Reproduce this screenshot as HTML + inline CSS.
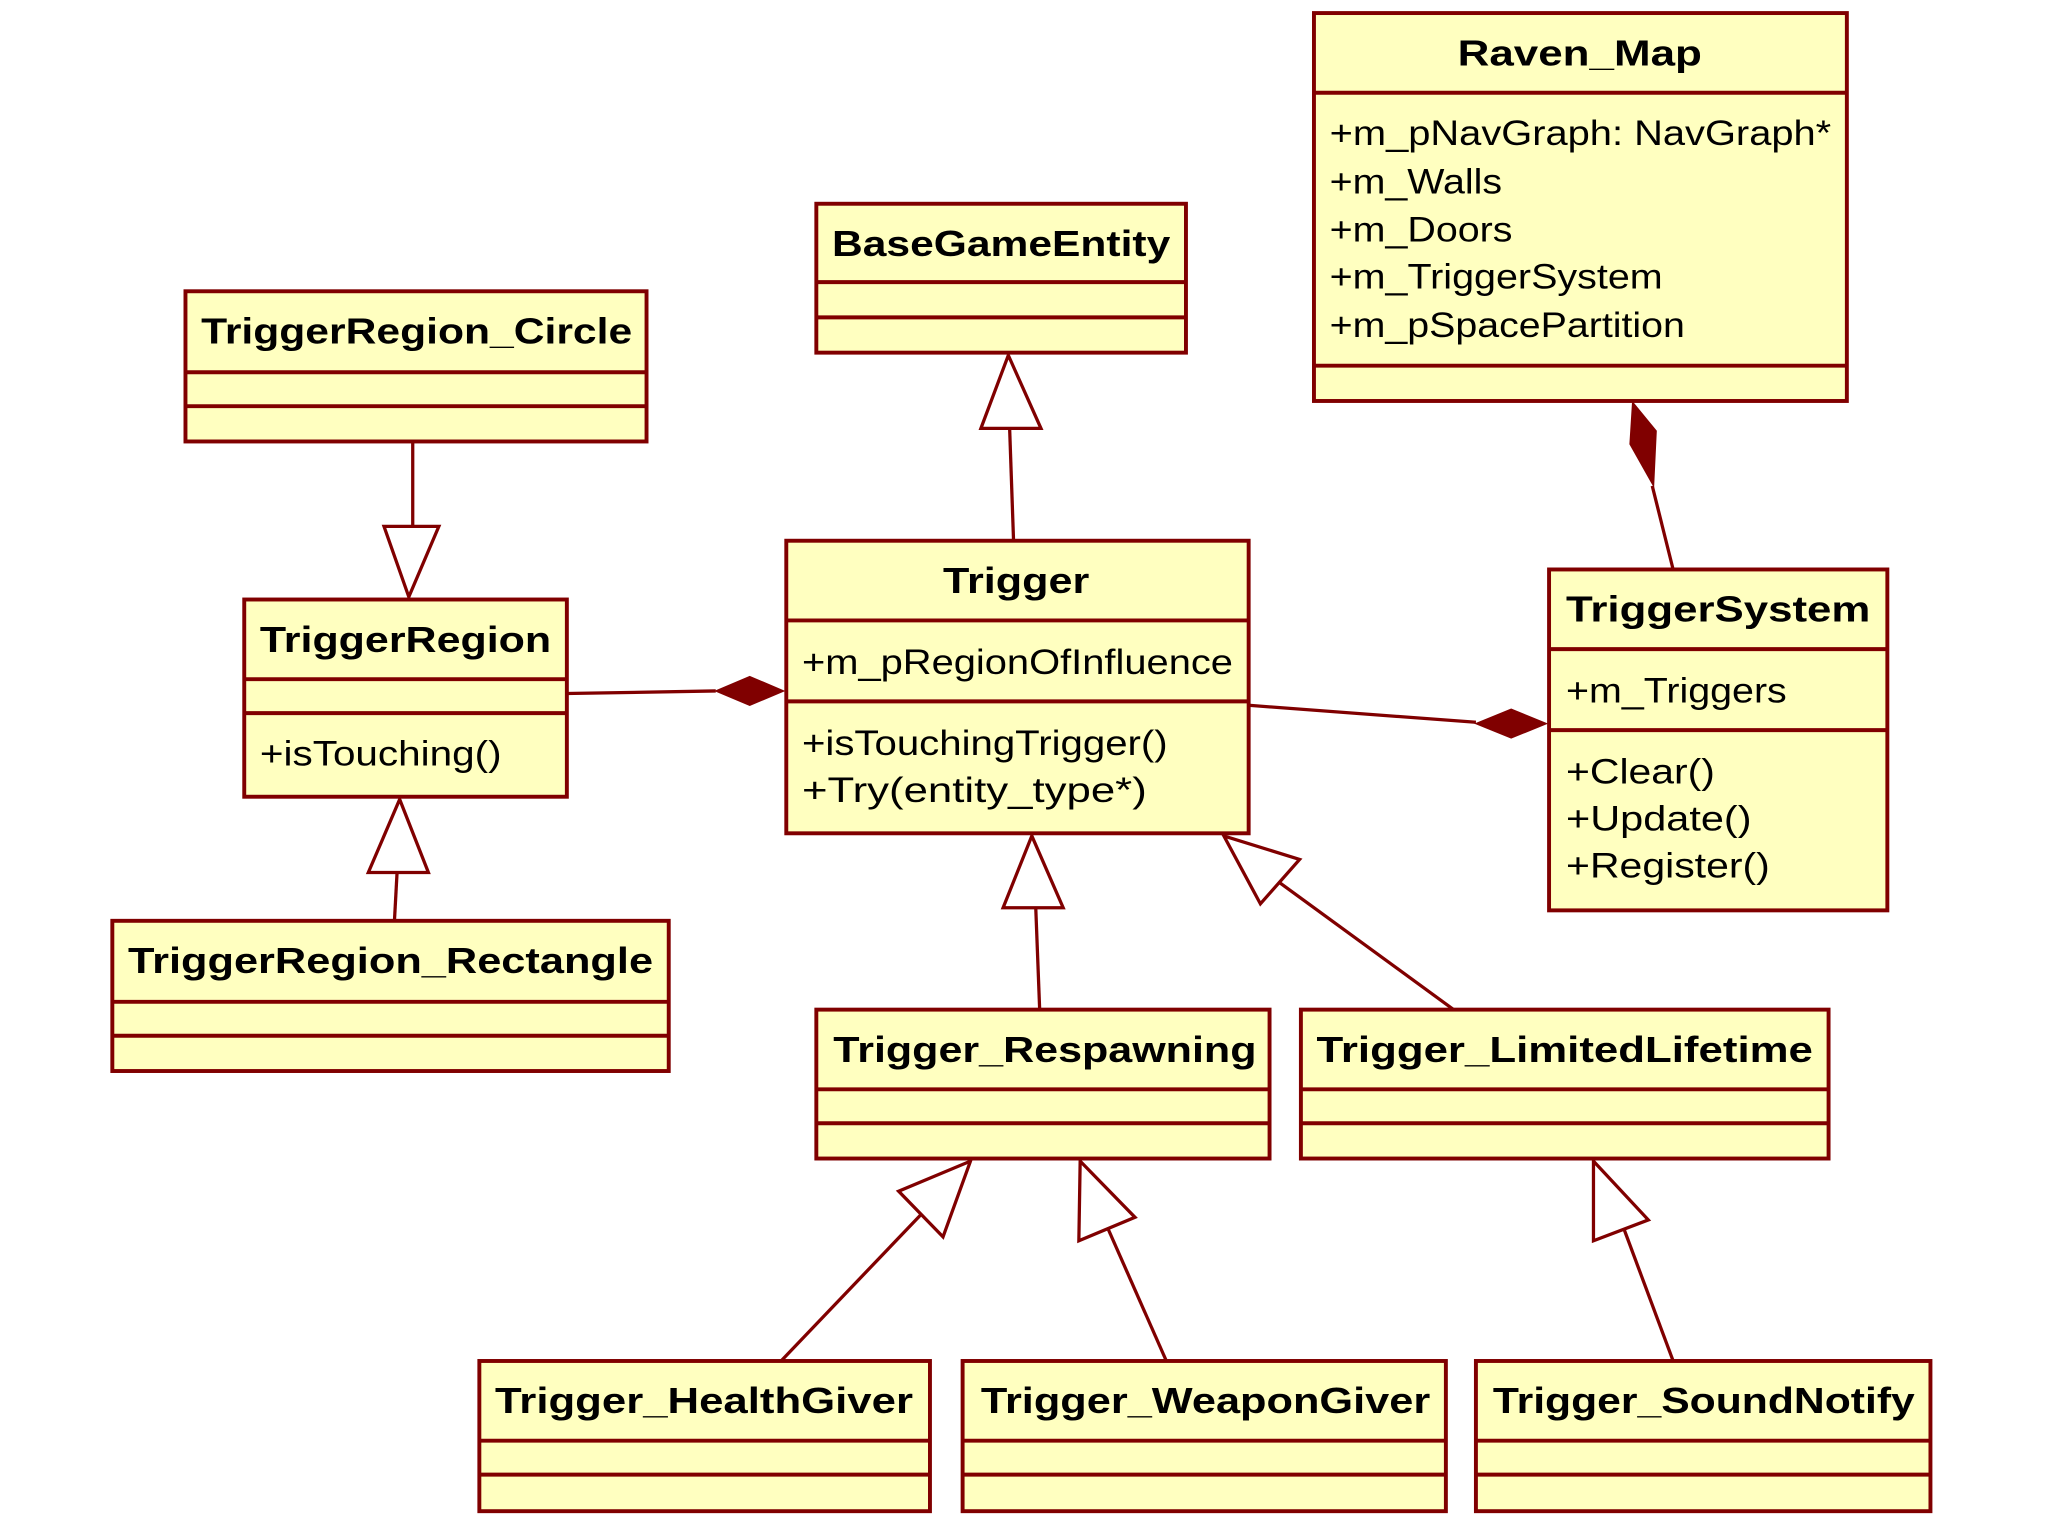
<!DOCTYPE html>
<html><head><meta charset="utf-8"><style>
html,body{margin:0;padding:0;background:#fff;}
svg{display:block;}
.b{fill:#ffffc0;stroke:#800000;stroke-width:3;}
.l{stroke:#800000;stroke-width:3;fill:none;}
.ln{stroke:#800000;stroke-width:2.5;fill:none;}
.tri{fill:#fff;stroke:#800000;stroke-width:2.5;}
.dia{fill:#800000;stroke:#800000;stroke-width:1;}
.t{font-family:"Liberation Sans",sans-serif;font-weight:bold;font-size:28px;fill:#000;}
.a{font-family:"Liberation Sans",sans-serif;font-size:27px;fill:#000;}
</style></head><body>
<svg width="2048" height="1536" viewBox="0 0 1568 1176" xmlns="http://www.w3.org/2000/svg">
<!-- connectors -->
<line class="ln" x1="316" y1="338" x2="316" y2="403"/>
<polygon class="tri" points="294,403 336,403 313,457"/>
<line class="ln" x1="776" y1="414" x2="773" y2="328"/>
<polygon class="tri" points="751,328 797,328 772,272"/>
<line class="ln" x1="302" y1="705" x2="304" y2="668"/>
<polygon class="tri" points="282,668 328,668 306,612"/>
<line class="ln" x1="434" y1="531" x2="548" y2="529"/>
<polygon class="dia" points="548,529 574,518 600,529 574,540"/>
<line class="ln" x1="956" y1="540" x2="1130" y2="553"/>
<polygon class="dia" points="1130,554 1157,543 1184,554 1157,565"/>
<line class="ln" x1="1281" y1="436" x2="1265" y2="372"/>
<polygon class="dia" points="1250,308 1268,330 1266,372 1248,340"/>
<line class="ln" x1="796" y1="773" x2="793" y2="695"/>
<polygon class="tri" points="768,695 814,695 790,640"/>
<line class="ln" x1="1113" y1="773" x2="980" y2="676"/>
<polygon class="tri" points="937,640 995,658 965,692"/>
<line class="ln" x1="598" y1="1042" x2="705" y2="930"/>
<polygon class="tri" points="743,889 722,947 688,912"/>
<line class="ln" x1="893" y1="1042" x2="848" y2="940"/>
<polygon class="tri" points="827,889 869,932 826,950"/>
<line class="ln" x1="1281" y1="1042" x2="1243" y2="940"/>
<polygon class="tri" points="1220,889 1262,934 1220,950"/>

<!-- Raven_Map -->
<rect class="b" x="1006" y="10" width="408" height="297"/>
<line class="l" x1="1006" y1="71" x2="1414" y2="71"/>
<line class="l" x1="1006" y1="280" x2="1414" y2="280"/>
<text class="t" x="1116" y="50" textLength="187" lengthAdjust="spacingAndGlyphs">Raven_Map</text>
<text class="a" x="1018" y="111" textLength="384" lengthAdjust="spacingAndGlyphs">+m_pNavGraph: NavGraph*</text>
<text class="a" x="1018" y="148" textLength="132" lengthAdjust="spacingAndGlyphs">+m_Walls</text>
<text class="a" x="1018" y="185" textLength="140" lengthAdjust="spacingAndGlyphs">+m_Doors</text>
<text class="a" x="1018" y="221" textLength="255" lengthAdjust="spacingAndGlyphs">+m_TriggerSystem</text>
<text class="a" x="1018" y="258" textLength="272" lengthAdjust="spacingAndGlyphs">+m_pSpacePartition</text>

<!-- BaseGameEntity -->
<rect class="b" x="625" y="156" width="283" height="114"/>
<line class="l" x1="625" y1="216" x2="908" y2="216"/>
<line class="l" x1="625" y1="243" x2="908" y2="243"/>
<text class="t" x="637" y="196" textLength="259" lengthAdjust="spacingAndGlyphs">BaseGameEntity</text>

<!-- TriggerRegion_Circle -->
<rect class="b" x="142" y="223" width="353" height="115"/>
<line class="l" x1="142" y1="285" x2="495" y2="285"/>
<line class="l" x1="142" y1="311" x2="495" y2="311"/>
<text class="t" x="154" y="263" textLength="330" lengthAdjust="spacingAndGlyphs">TriggerRegion_Circle</text>

<!-- TriggerRegion -->
<rect class="b" x="187" y="459" width="247" height="151"/>
<line class="l" x1="187" y1="520" x2="434" y2="520"/>
<line class="l" x1="187" y1="546" x2="434" y2="546"/>
<text class="t" x="199" y="499" textLength="223" lengthAdjust="spacingAndGlyphs">TriggerRegion</text>
<text class="a" x="199" y="586" textLength="185" lengthAdjust="spacingAndGlyphs">+isTouching()</text>

<!-- Trigger -->
<rect class="b" x="602" y="414" width="354" height="224"/>
<line class="l" x1="602" y1="475" x2="956" y2="475"/>
<line class="l" x1="602" y1="537" x2="956" y2="537"/>
<text class="t" x="722" y="454" textLength="112" lengthAdjust="spacingAndGlyphs">Trigger</text>
<text class="a" x="614" y="516" textLength="330" lengthAdjust="spacingAndGlyphs">+m_pRegionOfInfluence</text>
<text class="a" x="614" y="578" textLength="280" lengthAdjust="spacingAndGlyphs">+isTouchingTrigger()</text>
<text class="a" x="614" y="614" textLength="264" lengthAdjust="spacingAndGlyphs">+Try(entity_type*)</text>

<!-- TriggerSystem -->
<rect class="b" x="1186" y="436" width="259" height="261"/>
<line class="l" x1="1186" y1="497" x2="1445" y2="497"/>
<line class="l" x1="1186" y1="559" x2="1445" y2="559"/>
<text class="t" x="1199" y="476" textLength="233" lengthAdjust="spacingAndGlyphs">TriggerSystem</text>
<text class="a" x="1199" y="538" textLength="169" lengthAdjust="spacingAndGlyphs">+m_Triggers</text>
<text class="a" x="1199" y="600" textLength="114" lengthAdjust="spacingAndGlyphs">+Clear()</text>
<text class="a" x="1199" y="636" textLength="142" lengthAdjust="spacingAndGlyphs">+Update()</text>
<text class="a" x="1199" y="672" textLength="156" lengthAdjust="spacingAndGlyphs">+Register()</text>

<!-- TriggerRegion_Rectangle -->
<rect class="b" x="86" y="705" width="426" height="115"/>
<line class="l" x1="86" y1="767" x2="512" y2="767"/>
<line class="l" x1="86" y1="793" x2="512" y2="793"/>
<text class="t" x="98" y="745" textLength="402" lengthAdjust="spacingAndGlyphs">TriggerRegion_Rectangle</text>

<!-- Trigger_Respawning -->
<rect class="b" x="625" y="773" width="347" height="114"/>
<line class="l" x1="625" y1="834" x2="972" y2="834"/>
<line class="l" x1="625" y1="860" x2="972" y2="860"/>
<text class="t" x="638" y="813" textLength="324" lengthAdjust="spacingAndGlyphs">Trigger_Respawning</text>

<!-- Trigger_LimitedLifetime -->
<rect class="b" x="996" y="773" width="404" height="114"/>
<line class="l" x1="996" y1="834" x2="1400" y2="834"/>
<line class="l" x1="996" y1="860" x2="1400" y2="860"/>
<text class="t" x="1008" y="813" textLength="380" lengthAdjust="spacingAndGlyphs">Trigger_LimitedLifetime</text>

<!-- HealthGiver -->
<rect class="b" x="367" y="1042" width="345" height="115"/>
<line class="l" x1="367" y1="1103" x2="712" y2="1103"/>
<line class="l" x1="367" y1="1129" x2="712" y2="1129"/>
<text class="t" x="379" y="1082" textLength="320" lengthAdjust="spacingAndGlyphs">Trigger_HealthGiver</text>

<!-- WeaponGiver -->
<rect class="b" x="737" y="1042" width="370" height="115"/>
<line class="l" x1="737" y1="1103" x2="1107" y2="1103"/>
<line class="l" x1="737" y1="1129" x2="1107" y2="1129"/>
<text class="t" x="751" y="1082" textLength="344" lengthAdjust="spacingAndGlyphs">Trigger_WeaponGiver</text>

<!-- SoundNotify -->
<rect class="b" x="1130" y="1042" width="348" height="115"/>
<line class="l" x1="1130" y1="1103" x2="1478" y2="1103"/>
<line class="l" x1="1130" y1="1129" x2="1478" y2="1129"/>
<text class="t" x="1143" y="1082" textLength="323" lengthAdjust="spacingAndGlyphs">Trigger_SoundNotify</text>
</svg>
</body></html>
